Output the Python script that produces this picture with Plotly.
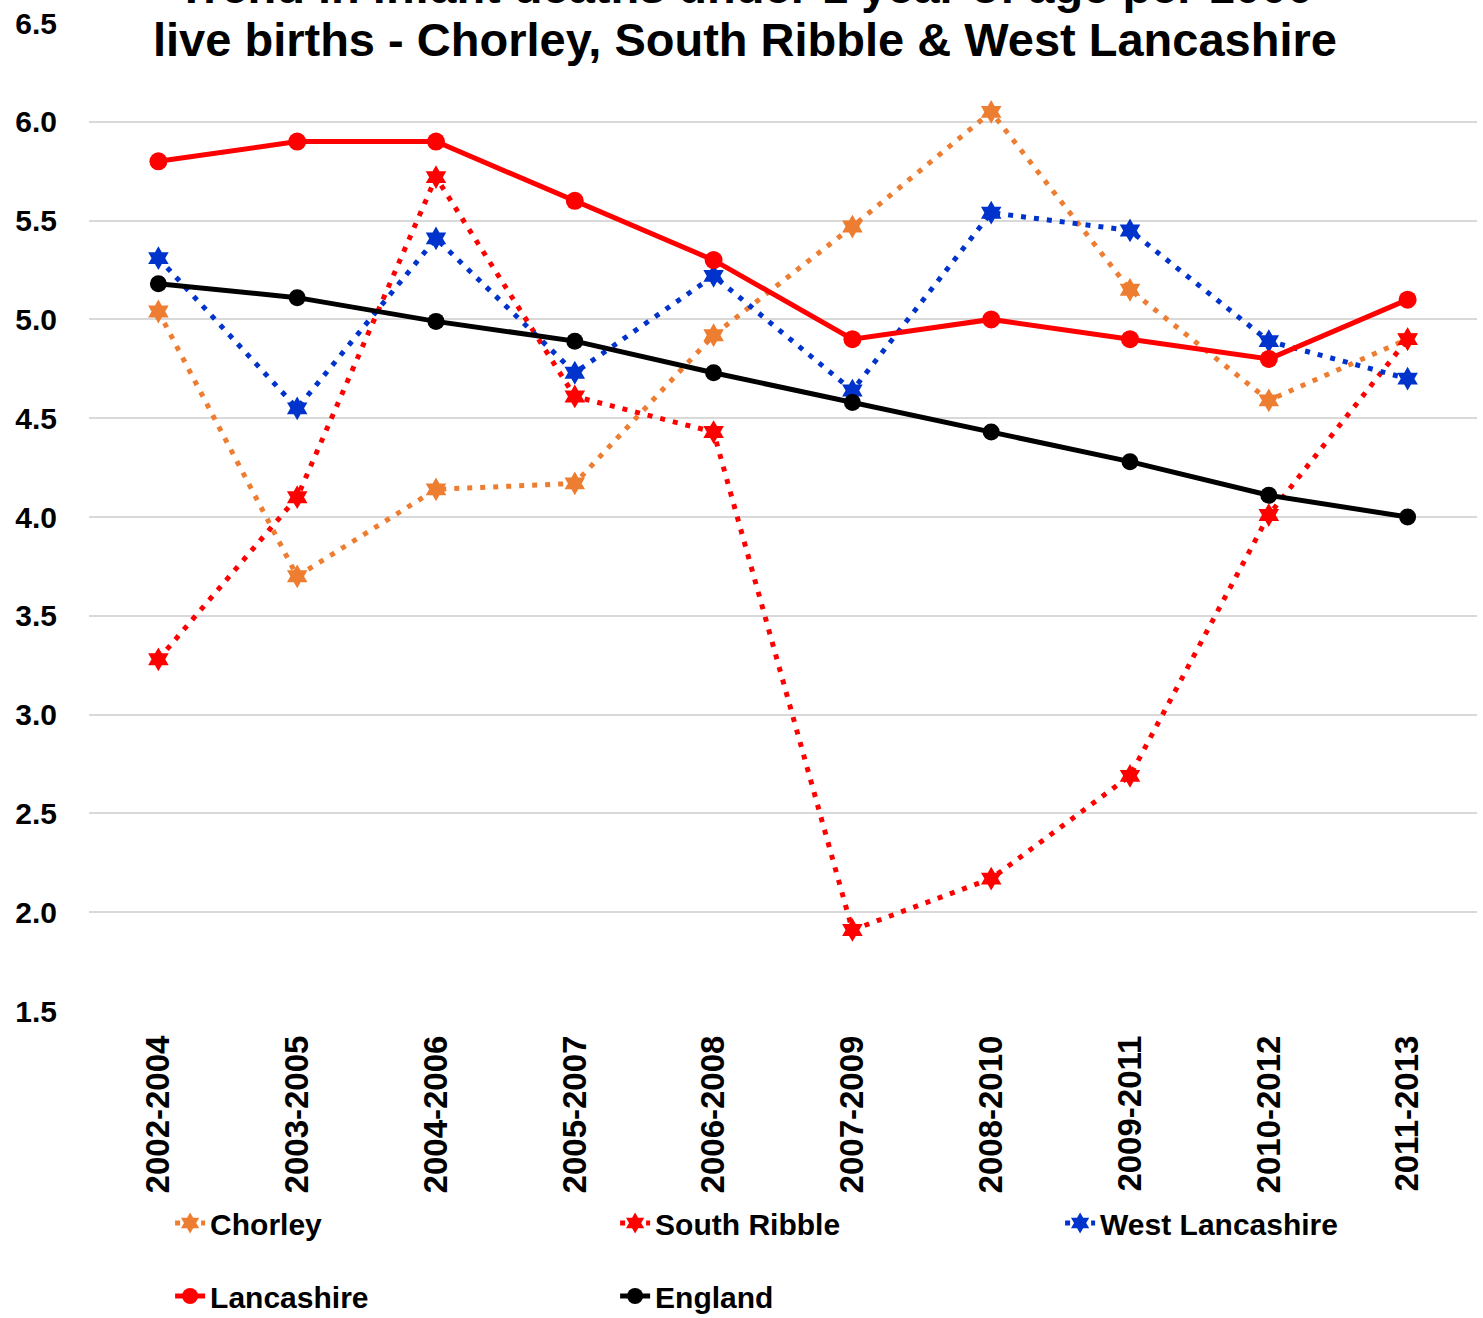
import plotly.graph_objects as go

categories = ["2002-2004", "2003-2005", "2004-2006", "2005-2007", "2006-2008",
              "2007-2009", "2008-2010", "2009-2011", "2010-2012", "2011-2013"]

chorley = [5.04, 3.70, 4.14, 4.17, 4.92, 5.47, 6.05, 5.15, 4.59, 4.90]
south_ribble = [3.28, 4.10, 5.72, 4.61, 4.43, 1.91, 2.17, 2.69, 4.01, 4.90]
west_lancs = [5.31, 4.55, 5.41, 4.73, 5.22, 4.64, 5.54, 5.45, 4.89, 4.70]
lancashire = [5.8, 5.9, 5.9, 5.6, 5.3, 4.9, 5.0, 4.9, 4.8, 5.1]
england = [5.18, 5.11, 4.99, 4.89, 4.73, 4.58, 4.43, 4.28, 4.11, 4.00]

title_line1 = "Trend in infant deaths under 1 year of age per 1000"
title_line2 = "live births - Chorley, South Ribble &amp; West Lancashire"

FONT = "Liberation Sans, Arial, sans-serif"
W, H = 1483, 1318
ML, MR, MT, MB = 89, 6, 23, 307
PW, PH = W - ML - MR, H - MT - MB


def px_to_paper_x(px):
    return (px - ML) / PW


def px_to_paper_y(py):
    return 1 - (py - MT) / PH


fig = go.Figure()

dotted = [
    ("Chorley", chorley, "#ED7D31"),
    ("South Ribble", south_ribble, "#FF0000"),
    ("West Lancashire", west_lancs, "#0033CC"),
]
for name, vals, col in dotted:
    fig.add_trace(go.Scatter(
        x=categories, y=vals, name=name, mode="lines+markers",
        line=dict(color=col, width=5, dash="5px,8px"),
        marker=dict(symbol="hexagram", size=18, color=col),
        legend="legend",
    ))

solid = [
    ("Lancashire", lancashire, "#FF0000", 18),
    ("England", england, "#000000", 17),
]
for name, vals, col, sz in solid:
    fig.add_trace(go.Scatter(
        x=categories, y=vals, name=name, mode="lines+markers",
        line=dict(color=col, width=5),
        marker=dict(symbol="circle", size=sz, color=col),
        legend="legend2",
    ))

# title: first line is mostly cut off at the top edge, as in the reference
fig.add_annotation(
    text="<b>" + title_line1 + "</b>",
    xref="paper", yref="paper", x=px_to_paper_x(745), y=px_to_paper_y(-13),
    xanchor="center", yanchor="middle", showarrow=False,
    font=dict(family=FONT, size=47, color="#000000"),
)
fig.add_annotation(
    text="<b>" + title_line2 + "</b>",
    xref="paper", yref="paper", x=px_to_paper_x(745), y=px_to_paper_y(40),
    xanchor="center", yanchor="middle", showarrow=False,
    font=dict(family=FONT, size=47, color="#000000"),
)

legend_common = dict(
    orientation="h", xref="container", yref="container",
    xanchor="left", yanchor="middle",
    entrywidth=400, entrywidthmode="pixels",
    font=dict(family=FONT, size=30, color="#000000", weight="bold"),
    bgcolor="rgba(0,0,0,0)", traceorder="normal",
)

fig.update_layout(
    width=W, height=H,
    margin=dict(l=ML, r=MR, t=MT, b=MB, autoexpand=False),
    paper_bgcolor="white", plot_bgcolor="white",
    font=dict(family=FONT, size=30, color="#000000"),
    showlegend=True,
    legend=dict(x=0.1147, y=1 - 1223 / H, **legend_common),
    legend2=dict(x=0.1147, y=1 - 1296 / H, **legend_common),
    xaxis=dict(
        type="category", range=[-0.5, 9.5], tickangle=-90,
        showgrid=False, showline=False, zeroline=False, automargin=False,
        ticks="", ticklabelstandoff=17,
        tickfont=dict(family=FONT, size=33, color="#000000", weight="bold"),
    ),
    yaxis=dict(
        range=[1.5, 6.5], dtick=0.5, tickformat=".1f", automargin=False,
        showgrid=True, gridcolor="#D9D9D9", gridwidth=2,
        zeroline=False, showline=False, ticks="", ticklabelstandoff=31,
        tickfont=dict(family=FONT, size=30, color="#000000", weight="bold"),
    ),
)

fig.write_html(
    "out.html",
    config={"displayModeBar": False},
    post_script="document.body.style.margin='0';document.body.style.padding='0';",
)
